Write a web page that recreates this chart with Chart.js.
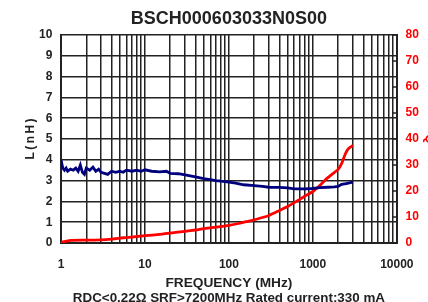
<!DOCTYPE html>
<html>
<head>
<title>BSCH000603033N0S00</title>
<script src="https://cdn.jsdelivr.net/npm/chart.js"></script>
<style>
  html, body { margin: 0; padding: 0; background: #fff; overflow: hidden; }
  #wrap { width: 428px; height: 302px; }
</style>
</head>
<body>
<div id="wrap"><canvas id="lq"></canvas></div>
<script>
// inductance curve (MHz, nH)
const lFreq = [1, 1.05, 1.1, 1.15, 1.2, 1.3, 1.4, 1.5, 1.6, 1.7, 1.8, 1.9, 2.0, 2.2, 2.4, 2.6, 2.8, 3.0, 3.3, 3.6,
  4, 4.5, 5, 5.5, 6, 7, 8, 9, 10, 12, 15, 18, 20, 25, 30, 40, 50, 60, 70, 80, 100, 120, 150, 200, 250, 300,
  400, 500, 600, 700, 800, 1000, 1200, 1500, 1800, 2000, 2200, 2500, 2800, 3000];
const lValues = [4.0, 3.6, 3.5, 3.6, 3.45, 3.55, 3.5, 3.6, 3.45, 3.75, 3.4, 3.3, 3.6, 3.5, 3.65, 3.45, 3.55, 3.4, 3.35, 3.3,
  3.45, 3.4, 3.45, 3.4, 3.5, 3.45, 3.5, 3.45, 3.52, 3.45, 3.42, 3.45, 3.35, 3.33, 3.28, 3.18, 3.1, 3.05, 3.0, 2.97, 2.93, 2.88, 2.8, 2.76, 2.72, 2.68,
  2.67, 2.65, 2.6, 2.6, 2.6, 2.62, 2.66, 2.68, 2.7, 2.72, 2.82, 2.86, 2.9, 2.93];

// Q curve (MHz, Q)
const qFreq = [1, 1.2, 1.3, 2, 3, 4, 5, 6, 8, 10, 15, 20, 30, 40, 50, 70, 100, 130, 160, 200, 250, 300,
  400, 500, 630, 700, 800, 1000, 1200, 1430, 1700, 2000, 2200, 2350, 2500, 2700, 3000];
const qValues = [0.3, 0.8, 1.0, 1.1, 1.2, 1.5, 1.9, 2.1, 2.5, 2.8, 3.3, 3.8, 4.5, 5.0, 5.5, 6.1, 6.8, 7.5, 8.2, 8.9, 9.8, 10.6,
  12.5, 14, 15.9, 16.8, 18, 19.8, 22, 24.5, 26.5, 28.3, 30.5, 33, 35, 36.5, 37.5];

const xGrid = [1, 2, 3, 4, 5, 6, 7, 8, 9, 10, 20, 30, 40, 50, 60, 70, 80, 90, 100, 200, 300, 400, 500, 600, 700, 800, 900,
  1000, 2000, 3000, 4000, 5000, 6000, 7000, 8000, 9000, 10000];
const xLabels = [1, 10, 100, 1000, 10000];
const qTicks = [0, 10, 20, 30, 40, 50, 60, 70, 80];

const FONT = "'Liberation Sans', Arial, sans-serif";
const INK = '#222';

// small inward tick marks on the right (Q) axis
const qMarks = {
  id: 'qMarks',
  afterDraw(chart) {
    const ctx = chart.ctx, y1 = chart.scales.y1, a = chart.chartArea;
    ctx.save();
    ctx.strokeStyle = INK;
    ctx.lineWidth = 1.5;
    qTicks.forEach(v => {
      const y = y1.getPixelForValue(v);
      ctx.beginPath();
      ctx.moveTo(a.right - 4, y);
      ctx.lineTo(a.right, y);
      ctx.stroke();
    });
    ctx.restore();
  }
};

// axis used only to carry a centred title over the plot
const titleAxis = (pos, weight, h, text, size, pad) => ({
  type: 'linear',
  position: pos,
  weight: weight,
  afterFit: s => { s.height = h; },
  ticks: { display: false },
  grid: { display: false, drawTicks: false },
  border: { display: false },
  title: {
    display: true,
    text: text,
    color: INK,
    font: { family: FONT, size: size, weight: 'bold' },
    padding: pad
  }
});

new Chart(document.getElementById('lq'), {
  type: 'line',
  data: {
    datasets: [{
      label: 'L',
      data: lFreq.map((f, i) => ({ x: f, y: lValues[i] })),
      borderColor: '#00007f',
      borderWidth: 2.8,
      pointRadius: 0,
      tension: 0,
      xAxisID: 'x',
      yAxisID: 'y'
    }, {
      label: 'Q',
      data: qFreq.map((f, i) => ({ x: f, y: qValues[i] })),
      borderColor: '#ff0000',
      borderWidth: 2.8,
      pointRadius: 0,
      tension: 0.2,
      xAxisID: 'x',
      yAxisID: 'y1'
    }]
  },
  options: {
    responsive: true,
    maintainAspectRatio: false,
    animation: false,
    layout: { padding: 0 },
    plugins: {
      legend: { display: false },
      tooltip: { enabled: false },
      title: { display: false }
    },
    scales: {
      top: titleAxis('top', 0, 35, 'BSCH000603033N0S00', 18, { top: 8.7, bottom: 0 }),
      x: {
        type: 'logarithmic',
        position: 'bottom',
        weight: 0,
        min: 1,
        max: 10000,
        afterBuildTicks: s => { s.ticks = xGrid.map(v => ({ value: v })); },
        afterFit: s => { s.height = 45; },
        ticks: {
          autoSkip: false,
          maxRotation: 0,
          padding: 14.5,
          color: INK,
          font: { family: FONT, size: 12, weight: 'bold' },
          callback: v => xLabels.includes(v) ? String(v) : ''
        },
        grid: { color: INK, lineWidth: 1.5, drawTicks: false },
        border: { color: INK, width: 2 },
        title: {
          display: true,
          text: 'FREQUENCY (MHz)',
          color: INK,
          font: { family: FONT, size: 13.7, weight: 'bold' },
          padding: { top: 0, bottom: -3 }
        }
      },
      note: titleAxis('bottom', 1, 14, 'RDC<0.22\u03A9 SRF>7200MHz Rated current:330 mA', 13.4, { top: 0, bottom: -4 }),
      y: {
        position: 'left',
        min: 0,
        max: 10,
        afterFit: s => { s.width = 61; },
        ticks: {
          stepSize: 1,
          padding: 8.7,
          color: INK,
          font: { family: FONT, size: 12, weight: 'bold' }
        },
        grid: { color: INK, lineWidth: 1.5, drawTicks: false },
        border: { color: INK, width: 2 },
        title: {
          display: true,
          text: 'L\u2009(\u2009n\u2009H\u2009)',
          color: INK,
          font: { family: FONT, size: 12, weight: 'bold' },
          padding: { top: 23, bottom: 0 }
        }
      },
      y1: {
        position: 'right',
        min: 0,
        max: 80,
        afterFit: s => { s.width = 30; },
        ticks: {
          stepSize: 10,
          padding: 8.7,
          color: '#ff0000',
          font: { family: FONT, size: 12, weight: 'bold' }
        },
        grid: { drawOnChartArea: false, drawTicks: false },
        border: { color: INK, width: 2 },
        title: {
          display: true,
          text: 'Q',
          color: '#ff0000',
          font: { family: FONT, size: 12, weight: 'bold' },
          padding: { top: -10, bottom: 0 }
        }
      }
    }
  },
  plugins: [qMarks]
});
</script>
</body>
</html>
